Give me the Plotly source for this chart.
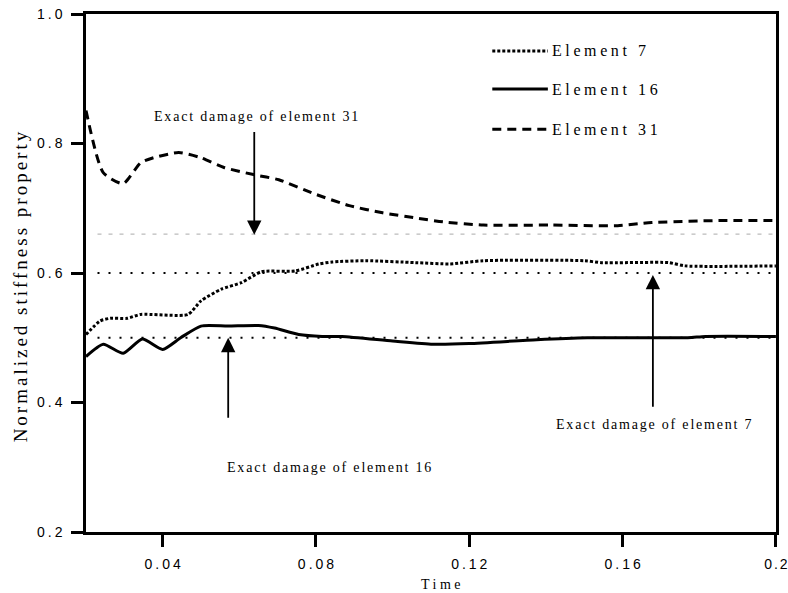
import plotly.graph_objects as go

# ---- data ----
t31 = [0.02, 0.0245, 0.0297, 0.0342, 0.0376, 0.0442, 0.05, 0.056, 0.0637, 0.0703, 0.0797,
       0.0887, 0.0974, 0.106, 0.1132, 0.1237, 0.1413, 0.1587, 0.164, 0.1676, 0.185, 0.2]
v31 = [0.851, 0.755, 0.738, 0.770, 0.778, 0.786, 0.778, 0.763, 0.752, 0.744, 0.722,
       0.704, 0.693, 0.685, 0.679, 0.674, 0.674, 0.673, 0.676, 0.678, 0.681, 0.681]

t7 = [0.02, 0.0237, 0.0263, 0.0308, 0.0342, 0.0466, 0.05, 0.0553, 0.0605, 0.0658, 0.0745,
      0.0808, 0.0842, 0.0929, 0.106, 0.115, 0.1237, 0.15, 0.1545, 0.172, 0.1763, 0.2]
v7 = [0.505, 0.526, 0.530, 0.530, 0.536, 0.536, 0.557, 0.575, 0.585, 0.602, 0.603,
      0.614, 0.617, 0.619, 0.616, 0.614, 0.619, 0.619, 0.616, 0.616, 0.611, 0.611]

t16 = [0.02, 0.0245, 0.0297, 0.0347, 0.04, 0.0447, 0.05, 0.0571, 0.065, 0.0692, 0.0755,
       0.0816, 0.0868, 0.1, 0.1105, 0.12, 0.1376, 0.1508, 0.177, 0.1816, 0.2]
v16 = [0.471, 0.490, 0.476, 0.498, 0.482, 0.500, 0.518, 0.518, 0.519, 0.515, 0.505,
       0.502, 0.502, 0.495, 0.490, 0.491, 0.497, 0.500, 0.500, 0.502, 0.502]

exact_t = [0.023, 0.2]
exact7 = 0.6
exact16 = 0.5
exact31 = 0.66

xticks = [0.04, 0.08, 0.12, 0.16, 0.2]
xticklabels = ["0.04", "0.08", "0.12", "0.16", "0.2"]
yticks = [0.2, 0.4, 0.6, 0.8, 1.0]
yticklabels = ["0.2", "0.4", "0.6", "0.8", "1.0"]

series_names = ["Element 7", "Element 16", "Element 31"]

SERIF = "Liberation Serif, Times New Roman, serif"
SANS = "Liberation Sans, Arial, sans-serif"

def sp(s, ls=2):
    return f'<span style="letter-spacing:{ls}px">{s}</span>'

def sp_tick(s, ls=3):
    # spaced tick label without trailing spacing after the last character
    return f'<span style="letter-spacing:{ls}px">{s[:-1]}</span>{s[-1]}'

fig = go.Figure()

# exact damage reference lines
fig.add_trace(go.Scatter(x=exact_t, y=[exact31] * 2, mode="lines",
                         line=dict(color="#bbbbbb", width=1.2, dash="4px,7px"), showlegend=False))
fig.add_trace(go.Scatter(x=exact_t, y=[exact7] * 2, mode="lines",
                         line=dict(color="black", width=2, dash="2px,9px"), showlegend=False))
fig.add_trace(go.Scatter(x=exact_t, y=[exact16] * 2, mode="lines",
                         line=dict(color="black", width=2, dash="2px,9px"), showlegend=False))

styles = {
    "Element 7": dict(color="black", width=3, dash="3px,2px"),
    "Element 16": dict(color="black", width=3, dash="solid"),
    "Element 31": dict(color="black", width=3, dash="9px,6px"),
}
data = {"Element 7": (t7, v7), "Element 16": (t16, v16), "Element 31": (t31, v31)}
for name in series_names:
    tx, vy = data[name]
    fig.add_trace(go.Scatter(x=tx, y=vy, mode="lines", line=dict(shape="spline", smoothing=0.6, **styles[name]),
                             name=name, showlegend=False))

# manual legend
leg_y = [0.943, 0.884, 0.822]
for name, ly in zip(series_names, leg_y):
    fig.add_trace(go.Scatter(x=[0.126, 0.1405], y=[ly, ly], mode="lines",
                             line=styles[name], showlegend=False, hoverinfo="skip"))
    fig.add_annotation(x=0.1411, y=ly, xref="x", yref="y", text=sp(name, 3.6), showarrow=False,
                       xanchor="left", yanchor="middle", font=dict(family=SERIF, size=16, color="black"))

# annotation arrows
arrows = [
    (0.0639, 0.820, 0.0639, 0.659),
    (0.0571, 0.374, 0.0571, 0.500),
    (0.1679, 0.391, 0.1679, 0.597),
]
for ax_, ay_, x_, y_ in arrows:
    fig.add_annotation(x=x_, y=y_, ax=ax_, ay=ay_, xref="x", yref="y", axref="x", ayref="y",
                       text="", showarrow=True, arrowhead=2, arrowsize=1.6, arrowwidth=1.8,
                       arrowcolor="black")

labels = [
    ("Exact damage of element 31", 0.0645, 0.842),
    ("Exact damage of element 16", 0.0837, 0.299),
    ("Exact damage of element 7", 0.1684, 0.366),
]
for txt, lx, ly in labels:
    fig.add_annotation(x=lx, y=ly, xref="x", yref="y", text=sp(txt, 1.8), showarrow=False,
                       xanchor="center", yanchor="middle", font=dict(family=SERIF, size=14, color="black"))

# axis titles
fig.add_annotation(x=0.516, y=-0.102, xref="paper", yref="paper", text=sp("Time", 3.5), showarrow=False,
                   xanchor="center", yanchor="middle", font=dict(family=SERIF, size=14, color="black"))
fig.add_annotation(x=-0.095, y=0.477, xref="paper", yref="paper", text=sp("Normalized stiffness property", 3),
                   textangle=-90, showarrow=False, xanchor="center", yanchor="middle",
                   font=dict(family=SERIF, size=19, color="black"))

xtt = [sp_tick(s, 3) for s in xticklabels]
xtt[-1] = sp_tick(xticklabels[-1], 2)

fig.update_layout(
    width=788, height=593,
    margin=dict(l=86, r=12, t=14, b=61),
    plot_bgcolor="white", paper_bgcolor="white",
    showlegend=False,
    xaxis=dict(range=[0.02, 0.20002], tickvals=xticks, ticktext=xtt,
               ticks="outside", ticklen=12, tickwidth=2.5, tickcolor="black", ticklabelstandoff=5,
               ticklabeloverflow="allow",
               showline=True, linecolor="black", linewidth=2.5, mirror=True, showgrid=False,
               zeroline=False, automargin=False, tickfont=dict(family=SANS, size=14, color="black")),
    yaxis=dict(range=[0.2, 1.0], tickvals=yticks, ticktext=[sp_tick(s, 3) for s in yticklabels],
               ticks="outside", ticklen=12, tickwidth=2.5, tickcolor="black", ticklabelstandoff=6,
               ticklabeloverflow="allow",
               showline=True, linecolor="black", linewidth=2.5, mirror=True, showgrid=False,
               zeroline=False, automargin=False, tickfont=dict(family=SANS, size=14, color="black")),
)

fig.write_html("out.html")
